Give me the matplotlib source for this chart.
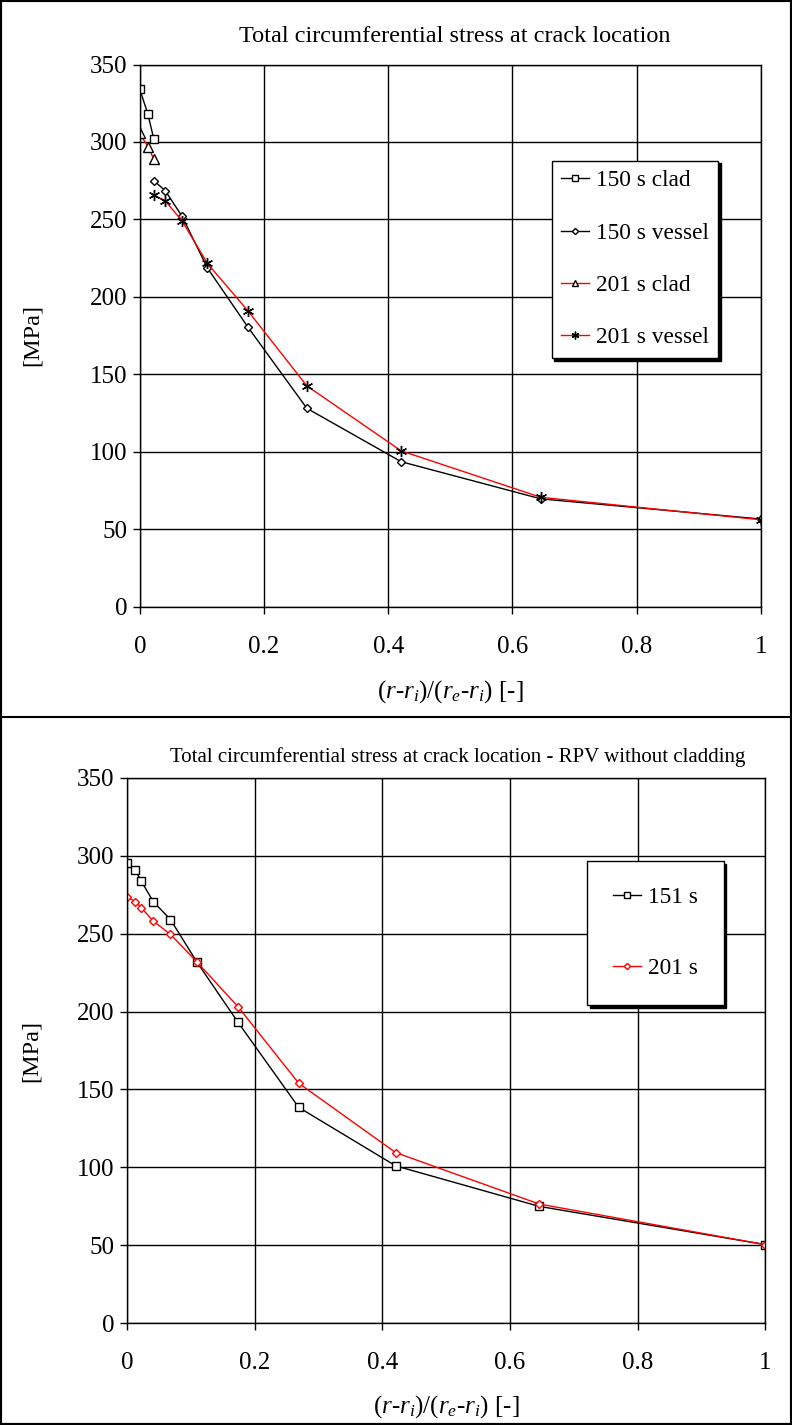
import matplotlib
matplotlib.use("Agg")
import matplotlib.pyplot as plt
from matplotlib.lines import Line2D
from matplotlib.patches import Rectangle

plt.rcParams['font.family'] = ['Liberation Serif', 'DejaVu Serif']
plt.rcParams['mathtext.fontset'] = 'custom'
plt.rcParams['mathtext.rm'] = 'Liberation Serif'
plt.rcParams['mathtext.it'] = 'Liberation Serif:italic'

# normalised wall depth (r - ri) / (re - ri)
x_clad = [0.0, 0.013, 0.0225]
x_vessel = [0.0225, 0.041, 0.068, 0.109, 0.174, 0.269, 0.421, 0.646, 1.0]
x_bare = [0.0, 0.013, 0.0225, 0.041, 0.068, 0.109, 0.174, 0.269, 0.421, 0.646, 1.0]

# circumferential stress [MPa], clad RPV
clad_150 = [334, 318, 302]
vessel_150 = [275, 268.5, 252, 218.5, 180.5, 128, 93.5, 69.5, 56.5]
clad_201 = [305.5, 297, 289]
vessel_201 = [265.5, 262, 249, 221.5, 191, 142.5, 100.5, 70.5, 56]

# circumferential stress [MPa], RPV without cladding
bare_151 = [295, 290.5, 283.5, 270.5, 259, 232, 193, 138.5, 101, 75, 50.5]
bare_201 = [273.5, 270.5, 266.5, 258, 249.5, 232, 203, 154, 109.5, 76.5, 50.5]

x_ticks = [0, 0.2, 0.4, 0.6, 0.8, 1.0]
x_tick_labels = ['0', '0.2', '0.4', '0.6', '0.8', '1']
y_ticks = [0, 50, 100, 150, 200, 250, 300, 350]

title_top = 'Total circumferential stress at crack location'
title_bottom = 'Total circumferential stress at crack location - RPV without cladding'
x_label = r'$(r$-$r_{i})/(r_{e}$-$r_{i})$ [-]'
y_label = '[MPa]'

W, H = 792, 1425
fig = plt.figure(figsize=(W / 100, H / 100), dpi=100)


def px_axes(left, top, right, bottom):
    return fig.add_axes([left / W, 1 - bottom / H, (right - left) / W, (bottom - top) / H])


def style(ax):
    ax.set_xlim(0, 1)
    ax.set_ylim(0, 350)
    ax.set_xticks(x_ticks)
    ax.set_xticklabels(x_tick_labels)
    ax.set_yticks(y_ticks)
    ax.grid(True, color='black', lw=1.0)
    ax.set_axisbelow(True)
    ax.tick_params(axis='both', direction='out', length=5, width=1, labelsize=18, colors='black')
    ax.tick_params(axis='x', pad=16)
    ax.tick_params(axis='y', pad=4)
    for s in ax.spines.values():
        s.set_color('black')
        s.set_linewidth(1.0)


leg_kw = dict(fontsize=16.8, frameon=True, fancybox=False, framealpha=1,
              edgecolor='black', borderaxespad=0, handletextpad=0.3,
              shadow={'color': 'black', 'alpha': 1})

# ---- clad RPV ----
ax1 = px_axes(139.8, 64.5, 760.7, 606.5)
style(ax1)
ax1.plot(x_clad, clad_150, color='black', lw=1.0, marker='s', ms=5.5, mfc='white', mec='black', mew=1,
         label='150 s clad')
ax1.plot(x_vessel, vessel_150, color='black', lw=1.0, marker='D', ms=4.5, mfc='white', mec='black', mew=1,
         label='150 s vessel')
ax1.plot(x_clad, clad_201, color='red', lw=1.0, marker='^', ms=7, mfc='white', mec='black', mew=1,
         label='201 s clad')
ax1.plot(x_vessel, vessel_201, color='red', lw=1.0, marker=(6, 2, 0), ms=8, mec='black', mew=1,
         label='201 s vessel')
ax1.legend(loc='upper left', bbox_to_anchor=(551.7 / W, 1 - 160.7 / H), bbox_transform=fig.transFigure,
           borderpad=0.4, labelspacing=1.33, handlelength=1.2, markerscale=0.7, **leg_kw)
fig.text(455 / W, 1 - 37 / H, title_top, ha='center', va='center', fontsize=17.5)
ax1.set_xlabel(x_label, fontsize=18)
ax1.xaxis.set_label_coords(0.5, (606.5 - 678) / (606.5 - 64.5))
ax1.set_ylabel(y_label, fontsize=17.5)
ax1.yaxis.set_label_coords((43 - 139.8) / (760.7 - 139.8), 0.5)

# ---- RPV without cladding ----
ax2 = px_axes(127.1, 777.7, 765.1, 1323.3)
style(ax2)
ax2.plot(x_bare, bare_151, color='black', lw=1.0, marker='s', ms=5.5, mfc='white', mec='black', mew=1,
         label='151 s')
ax2.plot(x_bare, bare_201, color='red', lw=1.0, marker='D', ms=4.5, mfc='white', mec='red', mew=1,
         label='201 s')
ax2.legend(loc='upper left', bbox_to_anchor=(587.3 / W, 1 - 861 / H), bbox_transform=fig.transFigure,
           borderpad=1.1, labelspacing=2.15, handlelength=1.2, markerscale=0.7, **leg_kw)
fig.text(458 / W, 1 - 757 / H, title_bottom, ha='center', va='center', fontsize=15)
ax2.set_xlabel(x_label, fontsize=18)
ax2.xaxis.set_label_coords(0.5, (1323.3 - 1393) / (1323.3 - 777.7))
ax2.set_ylabel(y_label, fontsize=17.5)
ax2.yaxis.set_label_coords((42 - 127.1) / (765.1 - 127.1), 0.5)

# frame around both panels and separator
fig.add_artist(Rectangle((0, 0), 1, 1, transform=fig.transFigure, fill=False, ec='black', lw=3))
fig.add_artist(Line2D([0, 1], [1 - 717 / H] * 2, transform=fig.transFigure, color='black', lw=1.5))

fig.savefig('out.png', dpi=100)
